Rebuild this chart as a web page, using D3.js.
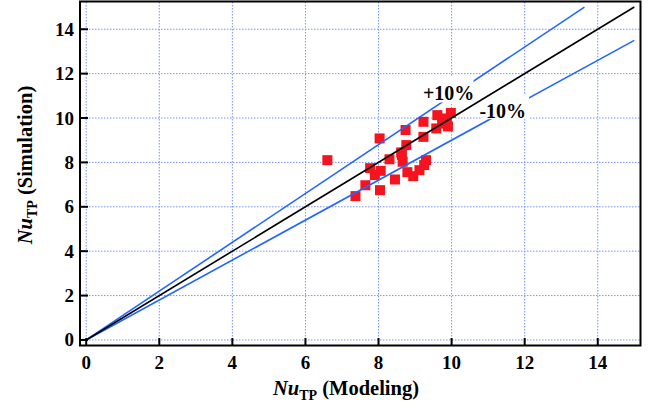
<!DOCTYPE html>
<html><head><meta charset="utf-8">
<script src="https://cdn.jsdelivr.net/npm/d3@7"></script>
<style>body{margin:0;background:#fff}svg{display:block}</style>
</head><body>
<svg id="c" width="660" height="414"></svg>
<script>
const xTicks = [0,2,4,6,8,10,12,14];
const yTicks = [0,2,4,6,8,10,12,14];
const modeling = [6.60,7.37,7.64,7.77,7.90,8.06,8.04,8.03,8.30,8.45,8.74,8.76,8.64,8.66,8.79,8.95,9.12,9.30,9.25,9.23,9.23,9.61,9.58,9.98,9.87,9.90,9.74,8.62];
const simulation = [8.10,6.48,6.97,7.74,7.43,7.62,6.75,9.08,8.14,7.23,9.46,8.78,8.33,8.03,7.56,7.38,7.65,8.10,7.88,9.83,9.15,10.13,9.53,10.23,9.98,9.62,9.75,8.45];
const refLines = [
  {name:"+10%", factor:1.1, color:"#2266ff", xEnd:15/1.1},
  {name:"-10%", factor:0.9, color:"#2266ff", xEnd:15},
  {name:"parity", factor:1.0, color:"#000000", xEnd:15}
];

const svg = d3.select("#c");
const font = "'Liberation Serif','Times New Roman',serif";
const x = d3.scaleLinear().domain([-0.17,15.17]).range([80,640.5]);
const y = d3.scaleLinear().domain([-0.25,15.25]).range([345.5,1.5]);

// grid
const g = svg.append("g");
g.selectAll(".gx").data(xTicks).join("line")
  .attr("x1",d=>x(d)).attr("x2",d=>x(d)).attr("y1",y.range()[0]).attr("y2",y.range()[1])
  .attr("stroke","#7592ff").attr("stroke-width",1).attr("stroke-dasharray","1.5,1.5");
g.selectAll(".gy").data(yTicks).join("line")
  .attr("y1",d=>y(d)).attr("y2",d=>y(d)).attr("x1",x.range()[0]).attr("x2",x.range()[1])
  .attr("stroke","#7592ff").attr("stroke-width",1).attr("stroke-dasharray","1.5,1.5");

// points
svg.append("g").selectAll("rect").data(modeling.map((m,i)=>[m,simulation[i]])).join("rect")
  .attr("x",d=>x(d[0])-5).attr("y",d=>y(d[1])-5).attr("width",10).attr("height",10)
  .attr("fill","#f5141e");

// blue lines
const line = d3.line().x(d=>x(d[0])).y(d=>y(d[1]));
refLines.filter(r=>r.name!=="parity").forEach(r=>{
  svg.append("path").attr("d",line([[0,0],[r.xEnd,r.xEnd*r.factor]]))
    .attr("stroke",r.color).attr("stroke-width",1.6).attr("fill","none");
});

// label boxes & labels
svg.append("rect").attr("x",x(9.6)).attr("y",y(11.85)).attr("width",x(10.6)-x(9.6)).attr("height",y(10.7)-y(11.85)).attr("fill","#fff");
svg.append("rect").attr("x",x(10.82)).attr("y",y(11.05)).attr("width",x(12.12)-x(10.82)).attr("height",y(9.95)-y(11.05)).attr("fill","#fff");
svg.append("text").attr("x",x(9.92)).attr("y",y(10.82)).attr("text-anchor","middle")
  .attr("font-family",font).attr("font-weight","bold").attr("font-size",20).text("+10%");
svg.append("text").attr("x",x(11.4)).attr("y",y(10.0)).attr("text-anchor","middle")
  .attr("font-family",font).attr("font-weight","bold").attr("font-size",20).text("-10%");

// black parity line
const p = refLines.find(r=>r.name==="parity");
svg.append("path").attr("d",line([[0,0],[p.xEnd,p.xEnd]]))
  .attr("stroke","#000").attr("stroke-width",1.6).attr("fill","none");

// frame
svg.append("rect").attr("x",80).attr("y",1.5).attr("width",560.5).attr("height",344)
  .attr("fill","none").attr("stroke","#000").attr("stroke-width",2);

// ticks
svg.append("g").selectAll("line").data(xTicks).join("line")
  .attr("x1",d=>x(d)).attr("x2",d=>x(d)).attr("y1",345.5).attr("y2",338)
  .attr("stroke","#000").attr("stroke-width",2);
svg.append("g").selectAll("line").data(yTicks).join("line")
  .attr("y1",d=>y(d)).attr("y2",d=>y(d)).attr("x1",80).attr("x2",88)
  .attr("stroke","#000").attr("stroke-width",2);

// tick labels
svg.append("g").selectAll("text").data(xTicks).join("text")
  .attr("x",d=>x(d)).attr("y",368.5).attr("text-anchor","middle")
  .attr("font-family",font).attr("font-weight","bold").attr("font-size",19).text(d=>d);
svg.append("g").selectAll("text").data(yTicks).join("text")
  .attr("x",74).attr("y",d=>y(d)+6.5).attr("text-anchor","end")
  .attr("font-family",font).attr("font-weight","bold").attr("font-size",19).text(d=>d);

// axis titles
const xt = svg.append("text").attr("x",346).attr("y",395).attr("text-anchor","middle")
  .attr("font-family",font).attr("font-weight","bold").attr("font-size",20.5);
xt.append("tspan").attr("font-style","italic").text("Nu");
xt.append("tspan").attr("font-size",14).attr("dy",5).text("TP");
xt.append("tspan").attr("dy",-5).text(" (Modeling)");

const yt = svg.append("text").attr("transform","translate(32,165) rotate(-90)").attr("text-anchor","middle")
  .attr("font-family",font).attr("font-weight","bold").attr("font-size",20.5);
yt.append("tspan").attr("font-style","italic").text("Nu");
yt.append("tspan").attr("font-size",14).attr("dy",5).text("TP");
yt.append("tspan").attr("dy",-5).text(" (Simulation)");
</script>
</body></html>
